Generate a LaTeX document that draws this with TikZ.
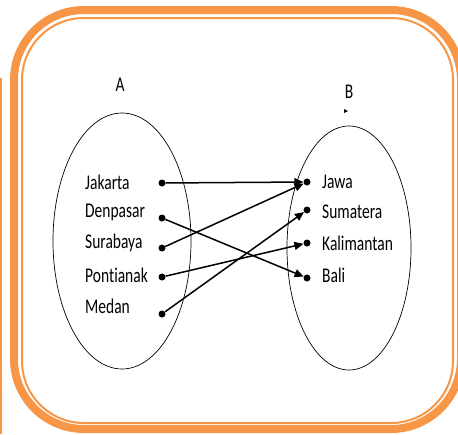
\documentclass[tikz,border=0pt]{standalone}
\usepackage{fontspec}
\setmainfont{Carlito}[Ligatures=NoCommon]
\usepackage{tikz}
\usetikzlibrary{arrows.meta}
\pgfdeclarelayer{edgelayer}
\pgfdeclarelayer{nodelayer}
\pgfsetlayers{edgelayer,nodelayer,main}
\definecolor{framecol}{HTML}{F79646}
\tikzstyle{dot}=[circle, fill=black, inner sep=0pt, minimum size=7pt]
\tikzstyle{item}=[anchor=west, inner sep=0pt, yscale=1.35, font=\fontsize{15.5}{18}\selectfont]
\tikzstyle{setname}=[inner sep=0pt, yscale=1.35, font=\fontsize{15.5}{18}\selectfont]
\tikzstyle{setline}=[draw=black, line width=0.7pt]
\tikzstyle{maps}=[draw=black, line width=1.5pt, -{Triangle[length=9pt,width=8pt]}]

\begin{document}
\begin{tikzpicture}[x=1pt, y=-1pt]
						\useasboundingbox (0, 0) rectangle (458, 434);
						\begin{scope}
							\clip (0, 0) rectangle (458, 434);
							\draw [draw=framecol, line width=8pt, rounded corners=70pt] (14, 10) rectangle (461, 429);
							\draw [draw=framecol, line width=2pt, rounded corners=62pt] (22, 18) rectangle (453, 423);
							\draw [draw=framecol, line width=2pt] (1, 78) -- (1, 434);
						\end{scope}
						\begin{pgfonlayer}{edgelayer}
							\draw [style=setline] (122, 241) ellipse (69pt and 128pt);
							\draw [style=setline] (349, 248) ellipse (62pt and 122pt);
						\end{pgfonlayer}
						\node [style=setname] (A) at (120, 85) {A};
						\node [style=setname] (B) at (349, 92) {B};
						\fill (344, 109) -- (348, 111) -- (344, 113) -- cycle;
						\begin{pgfonlayer}{nodelayer}
							% domain
							\node [style=item] (jkt) at (85, 182) {Jakarta};
							\node [style=item] (dps) at (85, 212) {Denpasar};
							\node [style=item] (sby) at (85, 243) {Surabaya};
							\node [style=item] (ptk) at (85, 275) {Pontianak};
							\node [style=item] (mdn) at (85, 306) {Medan};
							\node [style=dot] (1) at (162, 183) {};
							\node [style=dot] (2) at (162, 218) {};
							\node [style=dot] (3) at (162, 248) {};
							\node [style=dot] (4) at (162, 277) {};
							\node [style=dot] (5) at (162, 314) {};
							% codomain
							\node [style=item] (jw) at (322, 182) {Jawa};
							\node [style=item] (sm) at (322, 212) {Sumatera};
							\node [style=item] (kl) at (322, 243) {Kalimantan};
							\node [style=item] (bl) at (322, 275) {Bali};
							\node [style=dot] (6) at (307, 182) {};
							\node [style=dot] (7) at (307, 210) {};
							\node [style=dot] (8) at (307, 243) {};
							\node [style=dot] (9) at (307, 278) {};
						\end{pgfonlayer}
						\begin{pgfonlayer}{edgelayer}
							\draw [style=maps] (1) to (6);
							\draw [style=maps] (2) to (9);
							\draw [style=maps] (3) to (6);
							\draw [style=maps] (4) to (8);
							\draw [style=maps] (5) to (7);
						\end{pgfonlayer}
					\end{tikzpicture}
\end{document}
